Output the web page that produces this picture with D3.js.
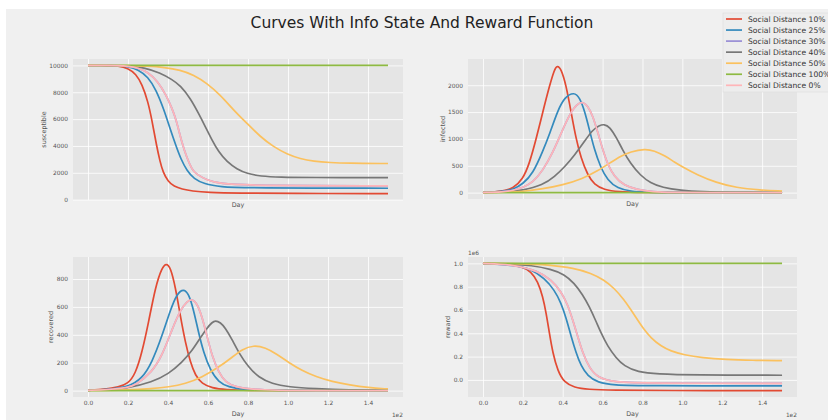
<!DOCTYPE html>
<html>
<head>
<meta charset="utf-8">
<script src="https://cdn.jsdelivr.net/npm/d3@7"></script>
<style>
  body { margin: 0; background: #f0f0f0; }
  text { font-family: "DejaVu Sans", sans-serif; }
</style>
</head>
<body>
<svg id="chart" width="828" height="420"></svg>
<script>
(function () {
    "use strict";

    // series order = legend order = draw order
    var seriesNames = ["Social Distance 10%", "Social Distance 25%", "Social Distance 30%",
        "Social Distance 40%", "Social Distance 50%", "Social Distance 100%", "Social Distance 0%"];
    var seriesColors = ["#E24A33", "#348ABD", "#988ED5", "#777777", "#FBC15E", "#8EBA42", "#FFB5B8"];

    var xTicks = [0, 20, 40, 60, 80, 100, 120, 140];

    // [day, value] pairs
    var sus10 = [[0, 10000], [10, 9994], [15, 9965], [20, 9800], [24, 9350], [27, 8600], [30, 7300], [32, 5900], [34.3, 4000], [36, 2850], [37.5, 2050], [40, 1350], [43, 980], [47, 780], [52, 640], [60, 530], [75, 480], [100, 460], [150, 450]];
    var sus25 = [[0, 10000], [10, 9997], [15, 9982], [20, 9920], [25, 9700], [30, 9150], [34, 8200], [38, 6700], [41, 5300], [44, 4000], [46.5, 3000], [49.5, 2150], [53, 1550], [58, 1180], [66, 950], [80, 870], [150, 848]];
    var sus0 = [[0, 10000], [10, 9998], [15, 9988], [20, 9950], [25, 9820], [30, 9500], [35, 8800], [39, 7800], [42, 6800], [44, 6000], [47, 4200], [49.5, 3100], [52, 2250], [54, 1900], [60, 1420], [66, 1190], [80, 1050], [150, 1025]];
    var sus30 = sus0; // hidden under the 0% line
    var sus40 = [[0, 10000], [10, 9998], [20, 9970], [28, 9850], [36, 9450], [42, 8950], [46.2, 8500], [51.2, 7545], [55.3, 6420], [58.7, 5430], [62, 4430], [65.3, 3560], [69.5, 2810], [74.5, 2270], [79.5, 1940], [86.2, 1740], [96.2, 1670], [110, 1648], [150, 1640]];
    var sus50 = [[0, 10000], [20, 9990], [30, 9950], [38, 9860], [46.2, 9660], [52.8, 9290], [59.5, 8670], [66.2, 7790], [72.8, 6670], [79.5, 5680], [86.2, 4680], [92.8, 3930], [99.5, 3390], [106.2, 3040], [112.8, 2860], [121.2, 2760], [129.5, 2710], [150, 2690]];
    var sus100 = [[0, 10000], [150, 10000]];

    var inf10 = [[0, 3], [10, 25], [15, 75], [20, 250], [23.3, 540], [26.7, 1000], [30, 1500], [33.3, 1980], [35.8, 2290], [37.2, 2370], [39.2, 2310], [41.7, 2000], [44.2, 1500], [46.7, 1000], [49.2, 640], [52.5, 330], [55.8, 150], [60.8, 55], [67.5, 15], [80, 3], [100, 0], [150, 0]];
    var inf25 = [[0, 2], [10, 20], [15, 55], [20, 160], [25, 350], [30, 770], [33.5, 1100], [37.5, 1530], [41, 1780], [45.8, 1875], [48.5, 1770], [51, 1520], [53.3, 1185], [55.8, 810], [59, 470], [62.5, 230], [67.5, 80], [74, 25], [82, 6], [95, 0], [150, 0]];
    var inf0 = [[0, 2], [10, 12], [15, 40], [20, 95], [25, 190], [30, 410], [35, 740], [40, 1175], [43.5, 1460], [47, 1650], [50.2, 1695], [52.5, 1615], [55, 1440], [57.5, 1135], [60, 810], [62.5, 530], [65.8, 300], [70.8, 130], [77.5, 55], [85, 15], [95, 3], [110, 0], [150, 0]];
    var inf30 = inf0;
    var inf40 = [[0, 2], [10, 8], [20, 40], [30, 140], [36, 300], [41, 480], [46, 700], [51, 960], [55, 1170], [58.3, 1250], [60.8, 1275], [63.5, 1230], [67, 1020], [70, 800], [74, 540], [79, 320], [84, 180], [90, 95], [99, 42], [110, 15], [125, 4], [150, 0]];
    var inf50 = [[0, 1], [10, 5], [20, 20], [30, 70], [40, 140], [50, 260], [57.5, 405], [64, 560], [69, 680], [74, 760], [81.2, 815], [86, 780], [91, 690], [96, 570], [101, 460], [107, 340], [117, 185], [127, 92], [139, 48], [150, 28]];
    var inf100 = [[0, 0], [150, 0]];

    var rec10 = [[0, 2], [8.7, 9], [15.3, 26], [20, 49], [23.7, 120], [27, 273], [30.3, 490], [33.7, 744], [37, 885], [39.2, 912], [41.2, 885], [43.7, 744], [46.2, 532], [48.7, 344], [51.2, 202], [53.7, 108], [57, 49], [62, 19], [68.7, 7], [80, 2], [100, 0], [150, 0]];
    var rec25 = [[0, 2], [10, 8], [20, 26], [27, 85], [32, 202], [37, 391], [41.2, 579], [44.5, 696], [47.8, 730], [50.3, 696], [52.8, 579], [55.3, 414], [57.8, 273], [61.2, 144], [65.3, 61], [70.3, 26], [77, 9], [90, 2], [110, 0], [150, 0]];
    var rec0 = [[0, 2], [10, 6], [20, 22], [23.7, 38], [32, 132], [37, 249], [42, 438], [46.2, 579], [49.5, 640], [52, 658], [54.5, 626], [57, 532], [59.5, 391], [62, 249], [65.3, 132], [68.7, 61], [73.7, 26], [82, 9], [95, 2], [110, 0], [150, 0]];
    var rec30 = rec0;
    var rec40 = [[0, 2], [10, 6], [20, 19], [32, 61], [40.3, 120], [47, 202], [52, 285], [56.2, 379], [59.5, 449], [62, 489], [63.7, 503], [66.2, 489], [68.7, 449], [72, 367], [75.3, 273], [80.3, 167], [85.3, 96], [92, 49], [100.3, 26], [113.7, 14], [130, 5], [150, 2]];
    var rec50 = [[0, 1], [20, 5], [32, 14], [40.3, 26], [48.7, 49], [57, 96], [65.3, 167], [72, 238], [77, 296], [82.8, 326], [88.7, 308], [94.5, 261], [100.3, 202], [107, 144], [114, 100], [122, 65], [131, 40], [140, 22], [150, 12]];
    var rec100 = [[0, 0], [150, 0]];

    // reward, in units of 1e6
    var rew10 = [[0, 1.0], [10.8, 0.994], [19.2, 0.977], [24.2, 0.929], [27.5, 0.844], [30, 0.716], [31.7, 0.574], [33.3, 0.403], [35, 0.233], [37.5, 0.077], [40.8, -0.023], [45.8, -0.065], [52.5, -0.082], [65, -0.088], [90, -0.091], [150, -0.092]];
    var rew25 = [[0, 1.0], [15.8, 0.985], [24.2, 0.95], [30.8, 0.872], [35.8, 0.773], [39.2, 0.659], [41.7, 0.531], [44.2, 0.375], [46.7, 0.233], [49.2, 0.119], [52.5, 0.034], [57.5, -0.023], [65.8, -0.045], [80, -0.05], [150, -0.051]];
    var rew0 = [[0, 1.0], [15.8, 0.988], [27.5, 0.935], [34.2, 0.86], [39.2, 0.759], [42.5, 0.645], [45, 0.517], [47.5, 0.375], [50, 0.233], [53.3, 0.105], [57.5, 0.02], [65.8, -0.02], [82.5, -0.028], [150, -0.03]];
    var rew30 = rew0;
    var rew40 = [[0, 1.0], [15, 0.995], [24.2, 0.983], [34.2, 0.95], [40.8, 0.905], [45.8, 0.830], [50, 0.730], [53.3, 0.631], [56.7, 0.503], [59.2, 0.403], [62.5, 0.290], [66.7, 0.190], [70.8, 0.119], [77.5, 0.068], [87.5, 0.05], [105, 0.042], [150, 0.04]];
    var rew50 = [[0, 1.0], [20, 0.997], [32.5, 0.988], [45.8, 0.96], [54.2, 0.915], [60.8, 0.858], [65.8, 0.787], [70.8, 0.688], [74.2, 0.602], [77.5, 0.517], [80.8, 0.432], [84.2, 0.361], [89.2, 0.290], [94.2, 0.247], [100.8, 0.215], [110, 0.19], [122, 0.175], [135, 0.168], [150, 0.165]];
    var rew100 = [[0, 1.0], [150, 1.0]];

    var susTicks = [0, 2000, 4000, 6000, 8000, 10000];
    var infTicks = [0, 500, 1000, 1500, 2000];
    var recTicks = [0, 200, 400, 600, 800];
    var rewTicks = [0.0, 0.2, 0.4, 0.6, 0.8, 1.0];

    var svg = d3.select("#chart");

    var panels = [
        { series: [sus10, sus25, sus30, sus40, sus50, sus100, sus0], label: "susceptible", ticks: susTicks,
          fmt: d3.format("d"), box: { x: 73, y: 59, w: 330, h: 141 }, labelX: 45.5, bottom: false },
        { series: [inf10, inf25, inf30, inf40, inf50, inf100, inf0], label: "infected", ticks: infTicks,
          fmt: d3.format("d"), box: { x: 468, y: 59, w: 329, h: 140 }, labelX: 444.5, bottom: false },
        { series: [rec10, rec25, rec30, rec40, rec50, rec100, rec0], label: "recovered", ticks: recTicks,
          fmt: d3.format("d"), box: { x: 73, y: 257, w: 330, h: 140 }, labelX: 53.2, bottom: true },
        { series: [rew10, rew25, rew30, rew40, rew50, rew100, rew0], label: "reward", ticks: rewTicks,
          fmt: d3.format(".1f"), box: { x: 468, y: 257, w: 329, h: 140 }, labelX: 449.5, bottom: true, offset: "1e6" }
    ];

    svg.append("rect").attr("width", 828).attr("height", 420).attr("fill", "#f0f0f0");
    // white margin of the original screenshot
    svg.append("rect").attr("width", 6).attr("height", 420).attr("fill", "#ffffff");
    svg.append("rect").attr("width", 828).attr("height", 9).attr("fill", "#ffffff");

    svg.append("text")
        .attr("x", 422).attr("y", 28)
        .attr("text-anchor", "middle")
        .attr("font-size", 15.5)
        .attr("fill", "#222")
        .text("Curves With Info State And Reward Function");

    var drawPanel = function (p) {
        var b = p.box;
        var all = [];
        p.series.forEach(function (s) { s.forEach(function (d) { all.push(d[1]); }); });
        var ext = d3.extent(all);
        var pad = (ext[1] - ext[0]) * 0.05;

        var x = d3.scaleLinear().domain([-7.5, 157.5]).range([b.x, b.x + b.w]);
        var y = d3.scaleLinear().domain([ext[0] - pad, ext[1] + pad]).range([b.y + b.h, b.y]);

        var g = svg.append("g");
        g.append("rect")
            .attr("x", b.x).attr("y", b.y)
            .attr("width", b.w).attr("height", b.h)
            .attr("fill", "#e5e5e5");

        var xAxis = d3.axisBottom(x)
            .tickValues(xTicks)
            .tickSize(-b.h)
            .tickPadding(4)
            .tickFormat(p.bottom ? function (d) { return d3.format(".1f")(d / 100); } : "");
        var $x = g.append("g").attr("transform", "translate(0," + (b.y + b.h) + ")").call(xAxis);

        var yAxis = d3.axisLeft(y)
            .tickValues(p.ticks)
            .tickSize(-b.w)
            .tickPadding(5)
            .tickFormat(p.fmt);
        var $y = g.append("g").attr("transform", "translate(" + b.x + ",0)").call(yAxis);

        [$x, $y].forEach(function ($a) {
            $a.select(".domain").remove();
            $a.selectAll(".tick line").attr("stroke", "#ffffff").attr("stroke-width", 0.8);
            $a.selectAll(".tick text").attr("fill", "#555555").attr("font-size", 5.9)
                .attr("font-family", "DejaVu Sans, sans-serif");
        });

        var line = d3.line()
            .x(function (d) { return x(d[0]); })
            .y(function (d) { return y(d[1]); })
            .curve(d3.curveBasis);

        p.series.forEach(function (s, i) {
            g.append("path")
                .attr("d", line(s))
                .attr("fill", "none")
                .attr("stroke", seriesColors[i])
                .attr("stroke-width", 1.7)
                .attr("stroke-linejoin", "round");
        });

        g.append("text")
            .attr("x", b.x + b.w / 2)
            .attr("y", p.bottom ? 416 : b.y + b.h + 7)
            .attr("text-anchor", "middle")
            .attr("font-size", 6.4).attr("fill", "#555555")
            .text("Day");

        g.append("text")
            .attr("transform", "translate(" + p.labelX + "," + (b.y + b.h / 2) + ") rotate(-90)")
            .attr("text-anchor", "middle")
            .attr("font-size", 6.4).attr("fill", "#555555")
            .text(p.label);

        if (p.bottom) {
            g.append("text")
                .attr("x", b.x + b.w).attr("y", 416.5)
                .attr("text-anchor", "end")
                .attr("font-size", 5.9).attr("fill", "#555555")
                .text("1e2");
        }
        if (p.offset) {
            g.append("text")
                .attr("x", b.x).attr("y", b.y - 2)
                .attr("font-size", 5.9).attr("fill", "#555555")
                .text(p.offset);
        }
    };

    panels.forEach(drawPanel);

    // legend, cut by the right edge like the original
    var $legend = svg.append("g");
    $legend.append("rect")
        .attr("x", 723).attr("y", 13)
        .attr("width", 120).attr("height", 79)
        .attr("fill", "#ededed")
        .attr("stroke", "#dcdcdc").attr("stroke-width", 0.6);
    seriesNames.forEach(function (name, i) {
        var cy = 19 + 11.05 * i;
        $legend.append("line")
            .attr("x1", 726).attr("x2", 742)
            .attr("y1", cy).attr("y2", cy)
            .attr("stroke", seriesColors[i]).attr("stroke-width", 1.7);
        $legend.append("text")
            .attr("x", 748).attr("y", cy + 2.8)
            .attr("font-size", 7.6).attr("fill", "#333")
            .text(name);
    });
})();
</script>
</body>
</html>
